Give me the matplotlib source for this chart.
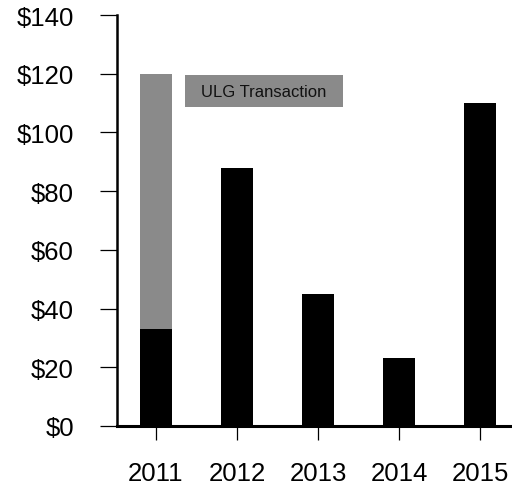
import matplotlib
matplotlib.use('Agg')
import matplotlib.pyplot as plt
from matplotlib.patches import Rectangle

plt.rcParams['font.family'] = ['Liberation Sans', 'DejaVu Sans']

# Annual values ($), with the one-off ULG transaction stacked on 2011
years = ['2011', '2012', '2013', '2014', '2015']
base_values = [33, 88, 45, 23, 110]
ulg_values = [87, 0, 0, 0, 0]
y_ticks = [0, 20, 40, 60, 80, 100, 120, 140]
y_tick_labels = ['$0', '$20', '$40', '$60', '$80', '$100', '$120', '$140']

gray = '#8a8a8a'

fig = plt.figure(figsize=(5.12, 4.89), dpi=100)
ax = fig.add_axes([117 / 512, 62 / 489, 395 / 512, 411 / 489])

x = range(len(years))
ax.bar(x, base_values, width=0.4, color='black')
ax.bar(x, ulg_values, width=0.4, bottom=base_values, color=gray)

ax.set_xlim(-0.481, 4.395)
ax.set_ylim(0, 140)
ax.set_xticks(list(x))
ax.set_xticklabels(years)
ax.set_yticks(y_ticks)
ax.set_yticklabels(y_tick_labels)

for side in ['top', 'right']:
    ax.spines[side].set_visible(False)
ax.spines['left'].set_linewidth(1.8)
ax.spines['bottom'].set_linewidth(2.2)

ax.tick_params(axis='y', direction='out', length=12, width=0.9, pad=19,
               labelsize=18.5, colors='black')
ax.tick_params(axis='x', direction='out', length=10, width=0.9, pad=15,
               labelsize=18.5, colors='black')

# Label box for the stacked segment
ax.add_patch(Rectangle((0.172, 0.776), 0.40, 0.078, transform=ax.transAxes,
                       facecolor=gray, edgecolor='none', clip_on=False))
ax.text(0.372, 0.815, 'ULG Transaction', transform=ax.transAxes,
        ha='center', va='center', fontsize=12, color='#111111')

plt.savefig('out.png', dpi=100)
